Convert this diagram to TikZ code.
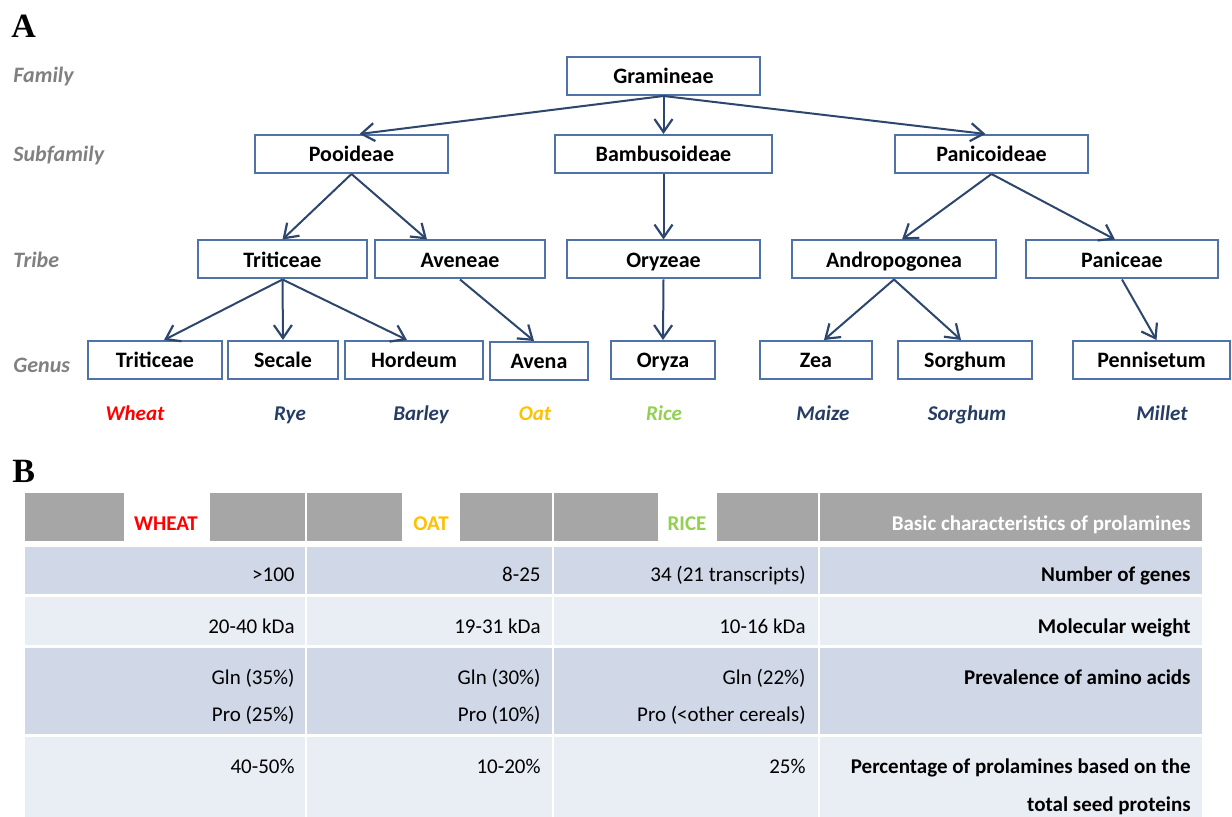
\documentclass[tikz,border=0pt]{standalone}
\usepackage{fontspec}
\setmainfont{Carlito}
\newfontfamily\letterfont{Liberation Serif}
\usetikzlibrary{arrows.meta}
\definecolor{boxblue}{RGB}{79,114,168}
\definecolor{arrowblue}{RGB}{44,70,110}
\definecolor{rankgray}{RGB}{128,128,128}
\definecolor{namenavy}{RGB}{38,60,100}
\definecolor{oatgold}{RGB}{255,192,0}
\definecolor{ricegreen}{RGB}{146,208,80}
\definecolor{headgray}{RGB}{166,166,166}
\definecolor{rowdark}{RGB}{208,216,232}
\definecolor{rowlight}{RGB}{233,237,244}
\tikzset{
  taxon/.style={draw=boxblue, line width=1pt, fill=white, minimum height=19pt, inner sep=0pt,
    text height=9.5pt, text depth=1.5pt, font=\fontsize{11}{13}\selectfont\bfseries},
  rank/.style={anchor=base west, inner sep=0pt, text=rankgray, font=\fontsize{11}{13}\selectfont\bfseries\itshape},
  cereal/.style={anchor=base, font=\fontsize{10.5}{13}\selectfont\bfseries\itshape},
  branch/.style={draw=arrowblue, line width=1pt, -{Straight Barb[length=6.5pt,width=9pt,line width=1.1pt]}},
  cell/.style={anchor=base east, inner sep=0pt, align=right, font=\fontsize{10.5}{18.5}\selectfont},
  trait/.style={cell, font=\fontsize{10.5}{18.5}\selectfont\bfseries},
  crop/.style={anchor=base, inner sep=0pt, font=\fontsize{10.5}{13}\selectfont\bfseries},
  panel/.style={anchor=base west, inner sep=0pt, font=\letterfont\fontsize{17}{20}\selectfont\bfseries}
}

\begin{document}
\begin{tikzpicture}[x=0.5pt, y=-0.5pt]
            \useasboundingbox (0,0) rectangle (1232,817);
            % A: taxonomy
            \node[panel] (pa) at (11,38) {A};
            \node[rank] (fam) at (13,83) {Family};
            \node[rank] (sub) at (13,162) {Subfamily};
            \node[rank] (tri) at (13,268) {Tribe};
            \node[rank] (gen) at (13,373) {Genus};

            \node[taxon, minimum width=96.5pt] (gram) at (663.5,76) {Gramineae};

            \node[taxon, minimum width=96.5pt] (pooi) at (351.5,154) {Pooideae};
            \node[taxon, minimum width=108.5pt] (bamb) at (663.5,154) {Bambusoideae};
            \node[taxon, minimum width=96.5pt] (pani) at (991.5,154) {Panicoideae};

            \node[taxon, minimum width=84.5pt] (trit) at (282.5,259.5) {Triticeae};
            \node[taxon, minimum width=85pt] (aven) at (460,259.5) {Aveneae};
            \node[taxon, minimum width=96.5pt] (oryzeae) at (663.5,259.5) {Oryzeae};
            \node[taxon, minimum width=102pt] (andr) at (894,259.5) {Andropogonea};
            \node[taxon, minimum width=96pt] (panic) at (1122,259.5) {Paniceae};

            \node[taxon, minimum width=67pt] (triti) at (155,360) {Triticeae};
            \node[taxon, minimum width=55pt] (seca) at (283,360) {Secale};
            \node[taxon, minimum width=69pt] (hord) at (414,360) {Hordeum};
            \node[taxon, minimum width=49pt] (avena) at (539,361) {Avena};
            \node[taxon, minimum width=52pt] (oryza) at (663,360) {Oryza};
            \node[taxon, minimum width=56pt] (zea) at (816,360) {Zea};
            \node[taxon, minimum width=67pt] (sorg) at (965,360) {Sorghum};
            \node[taxon, minimum width=78.5pt] (penn) at (1151.5,360) {Pennisetum};

            \draw[branch] (gram.south) -- ([xshift=4pt]pooi.north);
            \draw[branch] (gram.south) -- (bamb.north);
            \draw[branch] (gram.south) -- ([xshift=-3pt]pani.north);
            \draw[branch] (pooi.south) -- (trit.north);
            \draw[branch] (pooi.south) -- ([xshift=-16.5pt]aven.north);
            \draw[branch] (bamb.south) -- (oryzeae.north);
            \draw[branch] (pani.south) -- ([xshift=4pt]andr.north);
            \draw[branch] (pani.south) -- ([xshift=-3.5pt]panic.north);
            \draw[branch] (trit.south) -- ([xshift=4.5pt]triti.north);
            \draw[branch] (trit.south) -- (seca.north);
            \draw[branch] (trit.south) -- ([xshift=-3.5pt]hord.north);
            \draw[branch] (aven.south) -- ([xshift=-2.5pt]avena.north);
            \draw[branch] (oryzeae.south) -- (oryza.north);
            \draw[branch] (andr.south) -- ([xshift=4pt]zea.north);
            \draw[branch] (andr.south) -- ([xshift=-2pt]sorg.north);
            \draw[branch] (panic.south) -- ([xshift=2.5pt]penn.north);

            \node[cereal, text=red] (wheat) at (135,421) {Wheat};
            \node[cereal, text=namenavy] (rye) at (290,421) {Rye};
            \node[cereal, text=namenavy] (barley) at (421,421) {Barley};
            \node[cereal, text=oatgold] (oat) at (535,421) {Oat};
            \node[cereal, text=ricegreen] (rice) at (664,421) {Rice};
            \node[cereal, text=namenavy] (maize) at (823,421) {Maize};
            \node[cereal, text=namenavy] (sorghum) at (967,421) {Sorghum};
            \node[cereal, text=namenavy] (millet) at (1162,421) {Millet};

            % B: table
            \node[panel] (pb) at (12,483) {B};
            \fill[headgray] (25,493) rectangle (1202,541);
            \fill[white] (124,493) rectangle (210,547);
            \fill[white] (402,493) rectangle (460,547);
            \fill[white] (658,493) rectangle (717,547);
            \fill[rowdark] (25,547) rectangle (1202,594);
            \fill[rowlight] (25,597) rectangle (1202,645);
            \fill[rowdark] (25,648) rectangle (1202,734);
            \fill[rowlight] (25,737) rectangle (1202,817);
            \draw[white, line width=1pt] (306,493) -- (306,817);
            \draw[white, line width=1pt] (552.5,493) -- (552.5,817);
            \draw[white, line width=1pt] (818.5,493) -- (818.5,817);

            \node[crop, text=red] (hwheat) at (166,531) {WHEAT};
            \node[crop, text=oatgold] (hoat) at (431,531) {OAT};
            \node[crop, text=ricegreen] (hrice) at (687,531) {RICE};
            \node[trait, text=white] (hbasic) at (1191,531) {Basic characteristics of prolamines};

            \node[cell] (w1) at (295,582) {>100};
            \node[cell] (o1) at (541,582) {8-25};
            \node[cell] (r1) at (806,582) {34 (21 transcripts)};
            \node[trait] (t1) at (1191,582) {Number of genes};

            \node[cell] (w2) at (295,634) {20-40 kDa};
            \node[cell] (o2) at (541,634) {19-31 kDa};
            \node[cell] (r2) at (806,634) {10-16 kDa};
            \node[trait] (t2) at (1191,634) {Molecular weight};

            \node[cell] (w3) at (295,722) {Gln (35\%)\\Pro (25\%)};
            \node[cell] (o3) at (541,722) {Gln (30\%)\\Pro (10\%)};
            \node[cell] (r3) at (806,722) {Gln (22\%)\\Pro (<other cereals)};
            \node[trait] (t3) at (1191,685) {Prevalence of amino acids};

            \node[cell] (w4) at (295,774) {40-50\%};
            \node[cell] (o4) at (541,774) {10-20\%};
            \node[cell] (r4) at (806,774) {25\%};
            \node[trait] (t4) at (1191,811) {Percentage of prolamines based on the\\total seed proteins};
        \end{tikzpicture}
\end{document}
